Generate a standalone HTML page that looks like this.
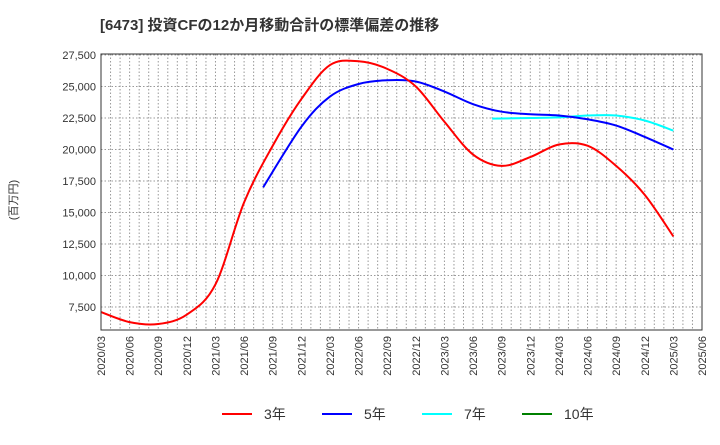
<!DOCTYPE html>
<html><head><meta charset="utf-8"><style>
body{margin:0;background:#fff;font-family:"Liberation Sans","Noto Sans CJK JP",sans-serif}
</style></head><body>
<svg id="c" width="720" height="440" xmlns="http://www.w3.org/2000/svg" font-family="Liberation Sans, Noto Sans CJK JP, sans-serif">
<text x="100" y="30" font-size="15" font-weight="bold" fill="#333">[6473]  投資CFの12か月移動合計の標準偏差の推移</text>
<text transform="translate(17,200) rotate(-90)" font-size="11" fill="#333" text-anchor="middle">(百万円)</text>
<g id="grid"></g><g id="series"></g><g id="axes"></g><g id="legend"></g>
</svg>
<script>
const yTicks=[7500,10000,12500,15000,17500,20000,22500,25000,27500];
const xTickLabels=["2020/03","2020/06","2020/09","2020/12","2021/03","2021/06","2021/09","2021/12","2022/03","2022/06","2022/09","2022/12","2023/03","2023/06","2023/09","2023/12","2024/03","2024/06","2024/09","2024/12","2025/03","2025/06"];
const s3Months=[0,3,6,9,12,15,18,21,24,27,30,33,36,39,42,45,48,51,54,57,60];
const s3Values=[7100,6300,6150,6900,9300,15800,20300,24000,26700,27000,26400,25000,22200,19600,18700,19400,20400,20300,18700,16400,13100];
const s5Months=[17,21,24,27,30,33,36,39,42,45,48,51,54,57,60];
const s5Values=[17000,21800,24200,25200,25500,25400,24600,23600,23000,22800,22700,22400,21900,21000,20000];
const s7Months=[41,45,48,51,54,57,60];
const s7Values=[22450,22500,22550,22700,22700,22300,21500];
const L=101,R=702,T=54,B=330;
const xs=m=>L+m*(R-L)/63;
const ys=v=>307-(v-7500)*(252/20000);
const NS="http://www.w3.org/2000/svg";
function mk(tag,attrs,parent){const e=document.createElementNS(NS,tag);for(const k in attrs)e.setAttribute(k,attrs[k]);parent.appendChild(e);return e;}
const grid=document.getElementById('grid'),axes=document.getElementById('axes'),ser=document.getElementById('series'),leg=document.getElementById('legend');
for(let m=1;m<63;m++){const g=mk('line',{x1:xs(m),x2:xs(m),y1:T,y2:B,stroke:'#999','stroke-dasharray':'1.5,2','stroke-width':1},grid);

}
yTicks.forEach(v=>{const g=mk('line',{x1:L,x2:R,y1:ys(v),y2:ys(v),stroke:'#999','stroke-dasharray':'1.5,2','stroke-width':1},grid);


const t=mk('text',{x:L-5,y:ys(v)+4,'font-size':11,'text-anchor':'end',fill:'#333'},axes);t.textContent=v.toLocaleString('en-US');

});
xTickLabels.forEach((s,i)=>{const x=xs(i*3);const t=mk('text',{transform:`translate(${x+4},${B+6}) rotate(-90)`,'font-size':11,'text-anchor':'end',fill:'#333'},axes);t.textContent=s;

});
const fr=mk('rect',{x:L,y:T,width:R-L,height:B-T,fill:'none',stroke:'#333','stroke-width':1},axes);


function path(ms,vs){const p=ms.map((m,i)=>[xs(m),ys(vs[i])]);let d=`M${p[0][0]},${p[0][1]}`;
for(let i=0;i<p.length-1;i++){const p0=p[Math.max(0,i-1)],p1=p[i],p2=p[i+1],p3=p[Math.min(p.length-1,i+2)];
d+=` C${p1[0]+(p2[0]-p0[0])/6},${p1[1]+(p2[1]-p0[1])/6} ${p2[0]-(p3[0]-p1[0])/6},${p2[1]-(p3[1]-p1[1])/6} ${p2[0]},${p2[1]}`;}return d;}
[[s7Months,s7Values,'#00ffff','series-7y'],[s5Months,s5Values,'#0000ff','series-5y'],[s3Months,s3Values,'#ff0000','series-3y']].forEach(([m,v,c,n])=>{
const e=mk('path',{d:path(m,v),fill:'none',stroke:c,'stroke-width':2},ser);

});
[['3年','#ff0000',222],['5年','#0000ff',322],['7年','#00ffff',422],['10年','#008000',522]].forEach(([l,c,x])=>{
const ln=mk('line',{x1:x,x2:x+30,y1:414,y2:414,stroke:c,'stroke-width':2},leg);


const t=mk('text',{x:x+42,y:419,'font-size':14,fill:'#333'},leg);t.textContent=l;

});
</script>
</body></html>
